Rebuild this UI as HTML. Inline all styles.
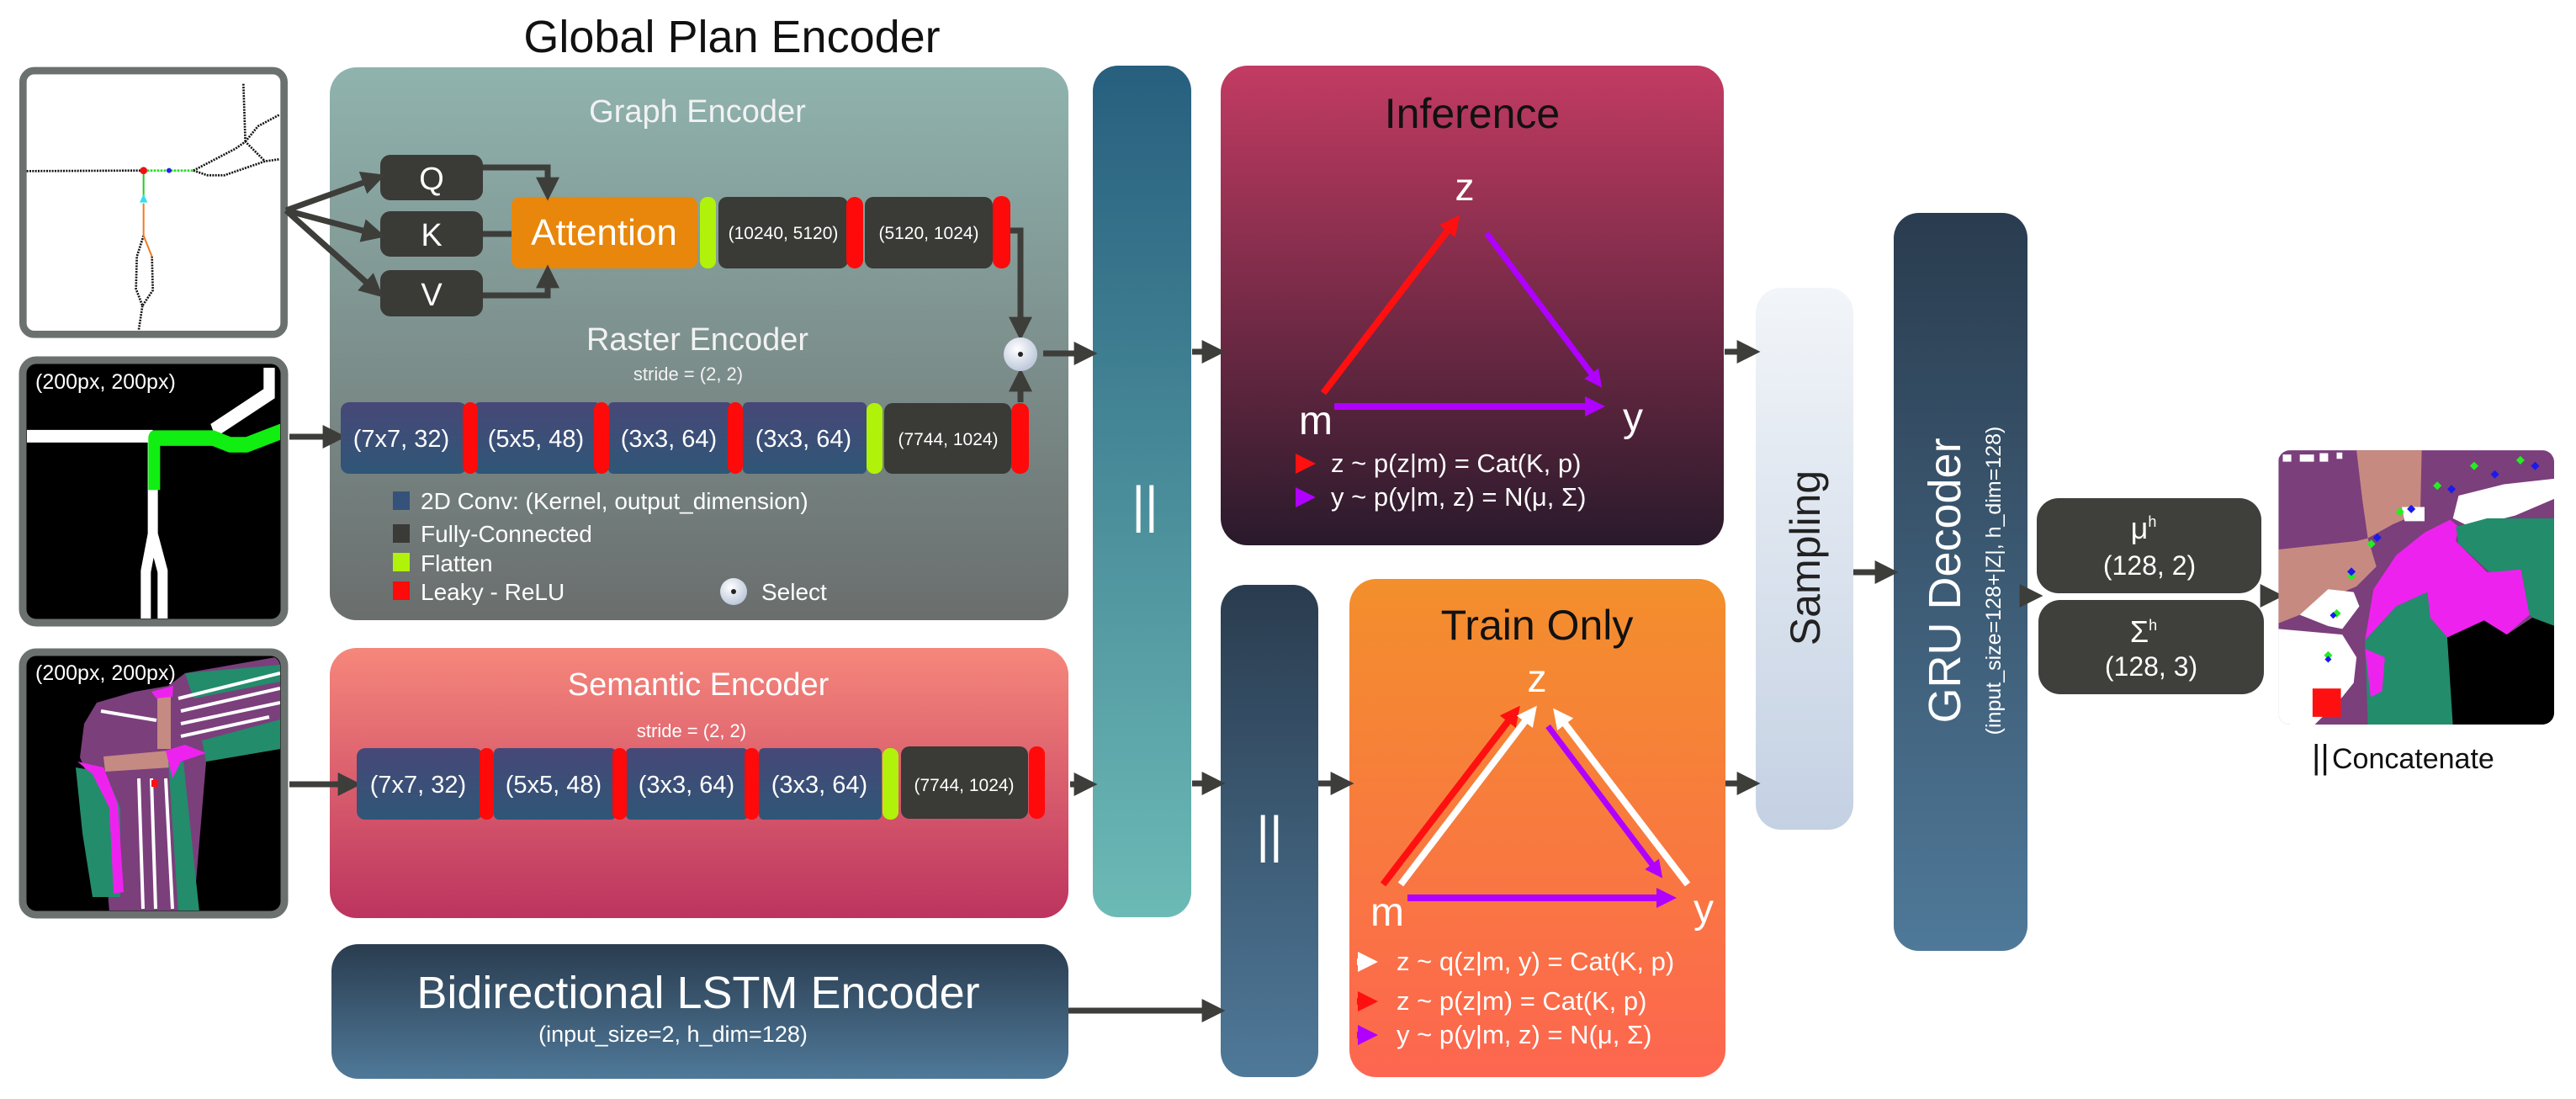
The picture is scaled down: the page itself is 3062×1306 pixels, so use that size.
<!DOCTYPE html>
<html><head><meta charset="utf-8"><style>
html,body{margin:0;padding:0;background:#fff;}
svg{display:block;font-family:"Liberation Sans","DejaVu Sans",sans-serif;}
</style></head><body>
<svg width="3062" height="1306" viewBox="0 0 3062 1306" xmlns="http://www.w3.org/2000/svg">
<defs>
<linearGradient id="gpe" x1="0" y1="0" x2="0" y2="1"><stop offset="0" stop-color="#90b3ae"/><stop offset="1" stop-color="#6a6e6d"/></linearGradient>
<linearGradient id="sem" x1="0" y1="0" x2="0" y2="1"><stop offset="0" stop-color="#f6877b"/><stop offset="1" stop-color="#bc345f"/></linearGradient>
<linearGradient id="lstm" x1="0" y1="0" x2="0" y2="1"><stop offset="0" stop-color="#2a3c4f"/><stop offset="1" stop-color="#4f7999"/></linearGradient>
<linearGradient id="bar1" x1="0" y1="0" x2="0" y2="1"><stop offset="0" stop-color="#275f7e"/><stop offset="1" stop-color="#6cbab6"/></linearGradient>
<linearGradient id="inf" x1="0" y1="0" x2="0" y2="1"><stop offset="0" stop-color="#c33b63"/><stop offset="1" stop-color="#291a2b"/></linearGradient>
<linearGradient id="train" x1="0" y1="0" x2="0" y2="1"><stop offset="0" stop-color="#f38f2c"/><stop offset="1" stop-color="#fd6650"/></linearGradient>
<linearGradient id="samp" x1="0" y1="0" x2="0" y2="1"><stop offset="0" stop-color="#f2f5f9"/><stop offset="1" stop-color="#c4d1e3"/></linearGradient>
<linearGradient id="conv" x1="0" y1="0" x2="0" y2="1"><stop offset="0" stop-color="#474877"/><stop offset="1" stop-color="#2f5677"/></linearGradient>
<radialGradient id="sel" cx="0.4" cy="0.35" r="0.7"><stop offset="0" stop-color="#ffffff"/><stop offset="1" stop-color="#b8c4d8"/></radialGradient>
<marker id="ah" markerWidth="4" markerHeight="4" refX="2.2" refY="2" orient="auto" markerUnits="strokeWidth"><path d="M0,0 L4,2 L0,4 Z" fill="#3d3d3a"/></marker>
<marker id="ahr" markerWidth="3" markerHeight="3" refX="2" refY="1.5" orient="auto" markerUnits="strokeWidth"><path d="M0,0 L3,1.5 L0,3 Z" fill="#ff1010"/></marker>
<marker id="ahp" markerWidth="3" markerHeight="3" refX="2" refY="1.5" orient="auto" markerUnits="strokeWidth"><path d="M0,0 L3,1.5 L0,3 Z" fill="#b000ff"/></marker>
<marker id="ahw" markerWidth="3" markerHeight="3" refX="2" refY="1.5" orient="auto" markerUnits="strokeWidth"><path d="M0,0 L3,1.5 L0,3 Z" fill="#ffffff"/></marker>
<clipPath id="cOut"><rect x="2708" y="535" width="328" height="326" rx="14"/></clipPath>
<clipPath id="cR"><rect x="32" y="433" width="301" height="302" rx="12"/></clipPath>
<clipPath id="cS"><rect x="32" y="780" width="301" height="302" rx="12"/></clipPath>
</defs>

<text x="870" y="62" font-size="54" text-anchor="middle" fill="#111">Global Plan Encoder</text>

<rect x="392" y="80" width="878" height="657" rx="32" fill="url(#gpe)"/>
<rect x="392" y="770" width="878" height="321" rx="32" fill="url(#sem)"/>
<rect x="394" y="1122" width="876" height="160" rx="32" fill="url(#lstm)"/>
<rect x="1299" y="78" width="117" height="1012" rx="30" fill="url(#bar1)"/>
<rect x="1451" y="695" width="116" height="585" rx="30" fill="url(#lstm)"/>
<rect x="1451" y="78" width="598" height="570" rx="32" fill="url(#inf)"/>
<rect x="1604" y="688" width="447" height="592" rx="32" fill="url(#train)"/>
<rect x="2087" y="342" width="116" height="644" rx="30" fill="url(#samp)"/>
<rect x="2251" y="253" width="159" height="877" rx="30" fill="url(#lstm)"/>
<rect x="2421" y="592" width="267" height="113" rx="26" fill="#3f3f3b"/>
<rect x="2423" y="713" width="268" height="112" rx="26" fill="#3f3f3b"/>

<g transform="translate(0,60) scale(0.3333)">
<rect x="82" y="72" width="931" height="940" rx="40" fill="#fff" stroke="#6b716f" stroke-width="26"/>
<g fill="none" stroke="#111" stroke-width="8" stroke-dasharray="6,4">
<path d="M95,430 L510,428"/>
<path d="M690,428 L740,445 L800,445 L945,395 L995,388"/>
<path d="M690,428 L840,350 L875,325 L945,395"/>
<path d="M875,325 L868,118"/>
<path d="M875,325 L920,270 L995,230"/>
<path d="M512,660 L488,735 L485,850 L508,910 L545,855 L542,735"/>
<path d="M508,910 L495,995"/>
</g>
<path d="M512,428 L690,428" stroke="#22dd22" stroke-width="8" stroke-dasharray="8,4" fill="none"/>
<path d="M512,430 L512,520" stroke="#22cc22" stroke-width="6" fill="none"/>
<path d="M512,545 L512,660 L542,735" stroke="#f07a20" stroke-width="6" fill="none"/>
<circle cx="512" cy="428" r="13" fill="#ee1111"/>
<circle cx="603" cy="428" r="9" fill="#2222ee"/>
<path d="M512,512 L526,542 L498,542 Z" fill="#33e0ee"/>
</g>

<rect x="27" y="428" width="311" height="312" rx="16" fill="#000" stroke="#6b716f" stroke-width="9"/>
<g clip-path="url(#cR)"><g transform="translate(0,415) scale(0.3333,0.44)">
<path d="M95,235 L545,235" stroke="#fff" stroke-width="34" fill="none"/>
<path d="M960,50 L960,120 L760,220" stroke="#fff" stroke-width="40" fill="none"/>
<path d="M545,235 L545,500 L520,600 L520,740 M545,500 L580,600 L580,740" stroke="#fff" stroke-width="36" fill="none"/>
<path d="M550,380 L550,240 L760,240 L820,258 L880,258 L1010,220" stroke="#11ee11" stroke-width="42" fill="none" stroke-linejoin="round"/>
</g></g>
<text x="42" y="462" font-size="25" fill="#fff">(200px, 200px)</text>

<!-- Semantic image (orig coords) -->
<rect x="27" y="775" width="311" height="312" rx="16" fill="#000" stroke="#6b716f" stroke-width="9"/>
<g clip-path="url(#cS)">
<path d="M100,860 L115,835 L160,822 L200,815 L220,800 L333,780 L333,890 L245,905 L230,1084 L130,1084 L120,960 L95,900 Z" fill="#7b3f7c"/>
<path d="M220,800 L333,790 L333,810 L230,830 Z M240,880 L333,855 L333,890 L245,905 Z" fill="#238c6b"/>
<path d="M212,830 L333,800 M215,845 L333,818 M215,860 L333,835 M215,875 L320,852 M120,845 L186,856 M165,925 L170,1080 M180,925 L185,1080 M197,925 L205,1080" stroke="#fff" stroke-width="4" fill="none"/>
<path d="M187,822 L203,822 L203,890 L187,890 Z M123,899 L200,892 L203,912 L125,917 Z" fill="#c58a82"/>
<path d="M90,912 L125,918 L143,960 L143,1066 L110,1066 L98,990 Z M200,905 L218,905 L237,1084 L212,1084 Z" fill="#238c6b"/>
<path d="M92,905 L123,912 L140,955 L147,1060 L135,1062 L130,960 L110,920 Z M197,892 L220,885 L245,895 L215,905 L205,925 Z M180,822 L206,815 L205,828 L186,830 Z" fill="#ee22ee"/>
<rect x="180" y="927" width="8" height="8" fill="#ff1010"/>
</g>
<text x="42" y="808" font-size="25" fill="#fff">(200px, 200px)</text>

<text x="829" y="145" font-size="38" text-anchor="middle" fill="#f2f2f2">Graph Encoder</text>
<rect x="452" y="184" width="122" height="54" rx="12" fill="#3a3a37"/>
<rect x="452" y="251" width="122" height="54" rx="12" fill="#3a3a37"/>
<rect x="452" y="321" width="122" height="55" rx="12" fill="#3a3a37"/>
<text x="513" y="225" font-size="38" text-anchor="middle" fill="#fff">Q</text>
<text x="513" y="292" font-size="38" text-anchor="middle" fill="#fff">K</text>
<text x="513" y="363" font-size="38" text-anchor="middle" fill="#fff">V</text>
<rect x="608" y="234" width="221" height="85" rx="10" fill="#e8870b"/>
<text x="718" y="291" font-size="44" text-anchor="middle" fill="#fff">Attention</text>
<rect x="832" y="234" width="19" height="85" rx="9" fill="#b0f20a"/>
<rect x="854" y="234" width="154" height="85" rx="10" fill="#3a3a37"/>
<text x="931" y="284" font-size="21" text-anchor="middle" fill="#fff">(10240, 5120)</text>
<rect x="1006" y="234" width="20" height="85" rx="10" fill="#ff0a0a"/>
<rect x="1028" y="234" width="152" height="85" rx="10" fill="#3a3a37"/>
<text x="1104" y="284" font-size="21" text-anchor="middle" fill="#fff">(5120, 1024)</text>
<rect x="1180" y="233" width="21" height="86" rx="10" fill="#ff0a0a"/>

<g stroke="#3d3d3a" stroke-width="7" fill="none">
<path d="M340,250 L446,212" marker-end="url(#ah)"/>
<path d="M340,250 L446,278" marker-end="url(#ah)"/>
<path d="M340,250 L446,345" marker-end="url(#ah)"/>
<path d="M574,199 L651,199 L651,226" marker-end="url(#ah)"/>
<path d="M574,351 L651,351 L651,327" marker-end="url(#ah)"/>
<path d="M574,278 L608,278"/>
<path d="M1201,274 L1213,274 L1213,392" marker-end="url(#ah)"/>
<path d="M1213,478 L1213,450" marker-end="url(#ah)"/>
<path d="M1240,420 L1292,420" marker-end="url(#ah)"/>
<path d="M344,519 L399,519" marker-end="url(#ah)"/>
<path d="M344,932 L417,932" marker-end="url(#ah)"/>
<path d="M1272,932 L1292,932" marker-end="url(#ah)"/>
<path d="M1270,1201 L1444,1201" marker-end="url(#ah)"/>
<path d="M1417,418 L1444,418" marker-end="url(#ah)"/>
<path d="M1417,931 L1444,931" marker-end="url(#ah)"/>
<path d="M1567,931 L1597,931" marker-end="url(#ah)"/>
<path d="M2050,418 L2080,418" marker-end="url(#ah)"/>
<path d="M2051,931 L2080,931" marker-end="url(#ah)"/>
<path d="M2203,680 L2244,680" marker-end="url(#ah)"/>
<path d="M2410,708 L2416,708" marker-end="url(#ah)"/>
<path d="M2690,708 L2702,708" marker-end="url(#ah)"/>
</g>
<circle cx="1213" cy="421" r="20" fill="url(#sel)"/>
<circle cx="1213" cy="421" r="3" fill="#222"/>

<text x="829" y="416" font-size="38" text-anchor="middle" fill="#f2f2f2">Raster Encoder</text>
<text x="818" y="452" font-size="22" text-anchor="middle" fill="#f2f2f2">stride = (2, 2)</text>
<rect x="405" y="478" width="150" height="85" rx="10" fill="url(#conv)"/>
<rect x="564" y="478" width="149" height="85" rx="6" fill="url(#conv)"/>
<rect x="723" y="478" width="147" height="85" rx="6" fill="url(#conv)"/>
<rect x="883" y="478" width="147" height="85" rx="6" fill="url(#conv)"/>
<rect x="550" y="478" width="18" height="85" rx="9" fill="#ff0a0a"/>
<rect x="706" y="478" width="18" height="85" rx="9" fill="#ff0a0a"/>
<rect x="865" y="478" width="18" height="85" rx="9" fill="#ff0a0a"/>
<rect x="1030" y="479" width="19" height="84" rx="9" fill="#b0f20a"/>
<rect x="1051" y="479" width="151" height="84" rx="10" fill="#3a3a37"/>
<rect x="1202" y="479" width="21" height="84" rx="10" fill="#ff0a0a"/>
<text x="477" y="531" font-size="29" text-anchor="middle" fill="#fff">(7x7, 32)</text>
<text x="637" y="531" font-size="29" text-anchor="middle" fill="#fff">(5x5, 48)</text>
<text x="795" y="531" font-size="29" text-anchor="middle" fill="#fff">(3x3, 64)</text>
<text x="955" y="531" font-size="29" text-anchor="middle" fill="#fff">(3x3, 64)</text>
<text x="1127" y="529" font-size="21" text-anchor="middle" fill="#fff">(7744, 1024)</text>

<rect x="467" y="584" width="20" height="22" fill="#34527a"/>
<rect x="467" y="623" width="20" height="22" fill="#3a3a37"/>
<rect x="467" y="657" width="20" height="22" fill="#b0f20a"/>
<rect x="467" y="691" width="20" height="22" fill="#ff0a0a"/>
<text x="500" y="605" font-size="28" fill="#fff">2D Conv: (Kernel, output_dimension)</text>
<text x="500" y="644" font-size="28" fill="#fff">Fully-Connected</text>
<text x="500" y="679" font-size="28" fill="#fff">Flatten</text>
<text x="500" y="713" font-size="28" fill="#fff">Leaky - ReLU</text>
<circle cx="872" cy="703" r="16" fill="url(#sel)"/>
<circle cx="872" cy="703" r="3" fill="#222"/>
<text x="905" y="713" font-size="28" fill="#fff">Select</text>

<text x="830" y="826" font-size="38" text-anchor="middle" fill="#fff">Semantic Encoder</text>
<text x="822" y="876" font-size="22" text-anchor="middle" fill="#fff">stride = (2, 2)</text>
<rect x="424" y="889" width="150" height="85" rx="10" fill="url(#conv)"/>
<rect x="587" y="889" width="145" height="85" rx="6" fill="url(#conv)"/>
<rect x="744" y="889" width="145" height="85" rx="6" fill="url(#conv)"/>
<rect x="902" y="889" width="146" height="85" rx="6" fill="url(#conv)"/>
<rect x="570" y="889" width="17" height="85" rx="8" fill="#ff0a0a"/>
<rect x="728" y="889" width="17" height="85" rx="8" fill="#ff0a0a"/>
<rect x="885" y="889" width="17" height="85" rx="8" fill="#ff0a0a"/>
<rect x="1049" y="889" width="19" height="85" rx="9" fill="#b0f20a"/>
<rect x="1071" y="887" width="151" height="86" rx="10" fill="#3a3a37"/>
<rect x="1223" y="887" width="19" height="86" rx="9" fill="#ff0a0a"/>
<text x="497" y="942" font-size="29" text-anchor="middle" fill="#fff">(7x7, 32)</text>
<text x="658" y="942" font-size="29" text-anchor="middle" fill="#fff">(5x5, 48)</text>
<text x="816" y="942" font-size="29" text-anchor="middle" fill="#fff">(3x3, 64)</text>
<text x="974" y="942" font-size="29" text-anchor="middle" fill="#fff">(3x3, 64)</text>
<text x="1146" y="940" font-size="21" text-anchor="middle" fill="#fff">(7744, 1024)</text>

<text x="830" y="1198" font-size="54" text-anchor="middle" fill="#fff">Bidirectional LSTM Encoder</text>
<text x="800" y="1238" font-size="27" text-anchor="middle" fill="#fff">(input_size=2, h_dim=128)</text>

<text x="1361" y="620" font-size="60" text-anchor="middle" fill="#fff">||</text>
<text x="1509" y="1012" font-size="60" text-anchor="middle" fill="#fff">||</text>

<text x="1750" y="152" font-size="50" text-anchor="middle" fill="#111">Inference</text>
<text x="1741" y="238" font-size="46" text-anchor="middle" fill="#fff">z</text>
<text x="1564" y="516" font-size="48" text-anchor="middle" fill="#fff">m</text>
<text x="1941" y="512" font-size="48" text-anchor="middle" fill="#fff">y</text>
<path d="M1573,467 L1730,262" stroke="#ff1010" stroke-width="8" fill="none" marker-end="url(#ahr)"/>
<path d="M1767,277 L1900,455" stroke="#b000ff" stroke-width="7" fill="none" marker-end="url(#ahp)"/>
<path d="M1586,483 L1900,483" stroke="#b000ff" stroke-width="8" fill="none" marker-end="url(#ahp)"/>
<path d="M1540,551 L1556,551" stroke="#ff1010" stroke-width="8" marker-end="url(#ahr)"/>
<path d="M1540,591 L1556,591" stroke="#b000ff" stroke-width="8" marker-end="url(#ahp)"/>
<text x="1582" y="561" font-size="31" fill="#fff">z ~ p(z|m) = Cat(K, p)</text>
<text x="1582" y="601" font-size="31" fill="#fff">y ~ p(y|m, z) = N(μ, Σ)</text>

<text x="1827" y="760" font-size="50" text-anchor="middle" fill="#111">Train Only</text>
<text x="1827" y="822" font-size="46" text-anchor="middle" fill="#fff">z</text>
<text x="1649" y="1100" font-size="48" text-anchor="middle" fill="#fff">m</text>
<text x="2025" y="1096" font-size="48" text-anchor="middle" fill="#fff">y</text>
<path d="M1644,1051 L1802,845" stroke="#ff1010" stroke-width="8" fill="none" marker-end="url(#ahr)"/>
<path d="M1665,1051 L1822,845" stroke="#fff" stroke-width="8" fill="none" marker-end="url(#ahw)"/>
<path d="M2006,1051 L1851,848" stroke="#fff" stroke-width="8" fill="none" marker-end="url(#ahw)"/>
<path d="M1840,863 L1972,1038" stroke="#b000ff" stroke-width="7" fill="none" marker-end="url(#ahp)"/>
<path d="M1673,1067 L1985,1067" stroke="#b000ff" stroke-width="8" fill="none" marker-end="url(#ahp)"/>
<path d="M1613,1143 L1630,1143" stroke="#fff" stroke-width="8" marker-end="url(#ahw)"/>
<path d="M1613,1190 L1630,1190" stroke="#ff1010" stroke-width="8" marker-end="url(#ahr)"/>
<path d="M1613,1230 L1630,1230" stroke="#b000ff" stroke-width="8" marker-end="url(#ahp)"/>
<text x="1660" y="1153" font-size="31" fill="#fff">z ~ q(z|m, y) = Cat(K, p)</text>
<text x="1660" y="1200" font-size="31" fill="#fff">z ~ p(z|m) = Cat(K, p)</text>
<text x="1660" y="1240" font-size="31" fill="#fff">y ~ p(y|m, z) = N(μ, Σ)</text>

<text transform="translate(2163,663) rotate(-90)" font-size="50" text-anchor="middle" fill="#222">Sampling</text>
<text transform="translate(2330,690) rotate(-90)" font-size="54" text-anchor="middle" fill="#fff">GRU Decoder</text>
<text transform="translate(2378,690) rotate(-90)" font-size="25" text-anchor="middle" fill="#fff">(input_size=128+|Z|, h_dim=128)</text>

<text x="2548" y="640" font-size="36" text-anchor="middle" fill="#fff">μ<tspan font-size="18" dy="-14">h</tspan></text>
<text x="2555" y="683" font-size="32" text-anchor="middle" fill="#fff">(128, 2)</text>
<text x="2548" y="763" font-size="36" text-anchor="middle" fill="#fff">Σ<tspan font-size="18" dy="-14">h</tspan></text>
<text x="2557" y="803" font-size="32" text-anchor="middle" fill="#fff">(128, 3)</text>

<g clip-path="url(#cOut)"><g transform="translate(2700,525) scale(0.337)">
<rect x="25" y="30" width="975" height="970" fill="#7b3f7c"/>
<path d="M300,30 L530,30 L525,250 L430,290 L340,340 L320,200 Z" fill="#c78a80"/>
<path d="M25,380 L300,350 L340,340 L370,440 L300,510 L180,560 L100,610 L25,640 Z" fill="#c78a80"/>
<path d="M640,270 L660,190 L820,150 L1000,130 L1000,200 L860,260 L700,300 Z" fill="#fff"/>
<path d="M100,610 L200,520 L290,530 L310,580 L250,660 L200,650 Z" fill="#fff"/>
<path d="M25,660 L250,680 L300,760 L290,850 L250,900 L150,1000 L25,1000 Z" fill="#fff"/>
<path d="M460,230 L540,230 L540,280 L470,280 Z" fill="#fff"/>
<path d="M40,45 L70,45 L70,70 L40,70 Z M100,45 L150,45 L150,70 L100,70 Z M170,40 L200,40 L200,70 L170,70 Z M230,38 L250,38 L250,60 L230,60 Z" fill="#fff"/>
<path d="M330,700 L360,520 L440,400 L540,320 L630,275 L660,300 L650,350 L760,460 L880,450 L910,610 L830,680 L700,700 L620,690 L560,620 L550,530 L440,580 Z" fill="#ee22ee"/>
<path d="M650,300 L760,270 L1000,270 L1000,650 L960,650 L910,610 L880,450 L770,460 L660,360 Z" fill="#238c6b"/>
<path d="M330,700 L440,580 L550,530 L560,620 L620,690 L640,1000 L340,1000 Z" fill="#238c6b"/>
<path d="M330,730 L400,760 L390,880 L350,900 Z" fill="#ee22ee"/>
<path d="M620,690 L750,630 L830,680 L920,620 L1000,650 L1000,1000 L640,1000 Z" fill="#000"/>
<rect x="145" y="870" width="100" height="100" fill="#ff1010"/>
<g fill="#22ee22"><path d="M715,70 l15,15 l-15,15 l-15,-15Z M878,50 l15,15 l-15,15 l-15,-15Z M585,140 l15,15 l-15,15 l-15,-15Z M453,232 l15,15 l-15,15 l-15,-15Z M352,345 l15,15 l-15,15 l-15,-15Z M282,458 l15,15 l-15,15 l-15,-15Z M230,590 l15,15 l-15,15 l-15,-15Z M200,738 l15,15 l-15,15 l-15,-15Z"/></g>
<g fill="#1a1aee"><path d="M930,70 l15,15 l-15,15 l-15,-15Z M788,100 l15,15 l-15,15 l-15,-15Z M635,152 l15,15 l-15,15 l-15,-15Z M493,222 l15,15 l-15,15 l-15,-15Z M373,323 l15,15 l-15,15 l-15,-15Z M282,443 l15,15 l-15,15 l-15,-15Z M218,600 l12,12 l-12,12 l-12,-12Z M200,755 l12,12 l-12,12 l-12,-12Z"/></g>
</g></g>

<text x="2748" y="913" font-size="40" fill="#111">||</text>
<text x="2772" y="913" font-size="34" fill="#111">Concatenate</text>
</svg>
</body></html>
